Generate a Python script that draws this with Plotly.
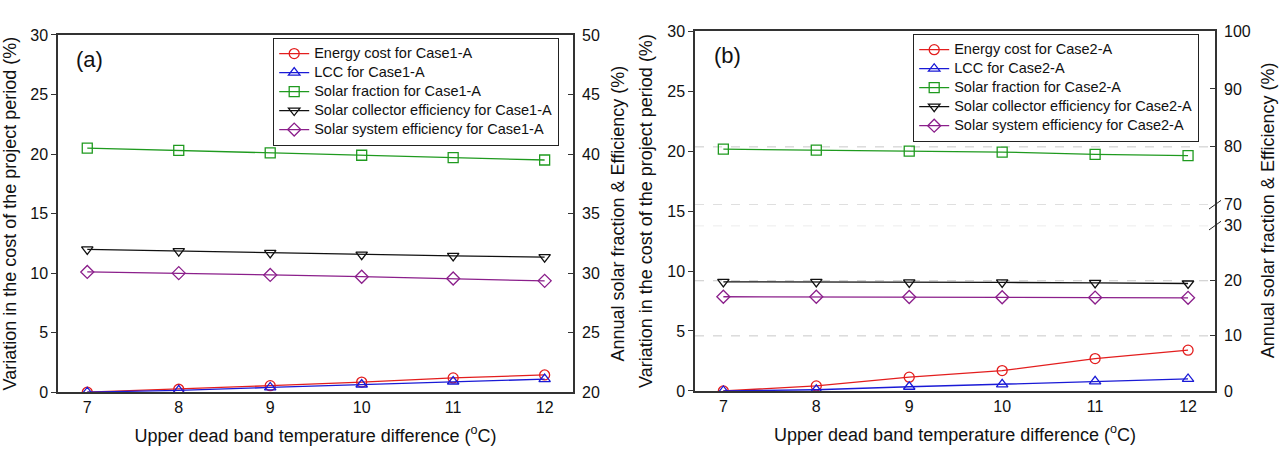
import plotly.graph_objects as go

# ---------------- data ----------------
dead_band = [7, 8, 9, 10, 11, 12]

# Panel (a) Case1-A
a_energy_cost = [0.0, 0.25, 0.55, 0.85, 1.2, 1.45]
a_lcc = [0.0, 0.15, 0.4, 0.65, 0.9, 1.1]
a_solar_fraction = [40.5, 40.3, 40.1, 39.9, 39.7, 39.5]
a_collector_eff = [32.0, 31.85, 31.7, 31.55, 31.45, 31.35]
a_system_eff = [30.1, 30.0, 29.85, 29.7, 29.55, 29.35]

# Panel (b) Case2-A
b_energy_cost = [0.0, 0.42, 1.15, 1.7, 2.7, 3.4]
b_lcc = [0.0, 0.1, 0.35, 0.55, 0.8, 1.0]
b_solar_fraction = [79.6, 79.45, 79.25, 79.1, 78.7, 78.5]
b_collector_eff = [19.8, 19.8, 19.7, 19.7, 19.6, 19.5]
b_system_eff = [17.1, 17.1, 17.05, 17.0, 16.95, 16.9]

left_ticks = [0, 5, 10, 15, 20, 25, 30]
a_right_ticks = [20, 25, 30, 35, 40, 45, 50]
b_right_low_ticks = [0, 10, 20, 30]
b_right_high_ticks = [70, 80, 90, 100]

# ---------------- style ----------------
FONT = "Arial, Liberation Sans, sans-serif"
RED, BLUE, GREEN, BLACK, PURPLE = "#e31e1e", "#1a1ad6", "#1f9a1f", "#111111", "#8b1f8b"
W, H = 1288, 459
CLEAR = "rgba(0,0,0,0)"

def px(x):
    return x / W

def py(y):
    return 1 - y / H

def lg(name):
    return f"<span style='font-size:14.5px'>{name}</span>"

fig = go.Figure()

def add(x, y, name, color, symbol, xa, ya, legend):
    fig.add_trace(go.Scatter(
        x=x, y=y, name=lg(name), mode="lines+markers",
        line=dict(color=color, width=1.3),
        marker=dict(symbol=symbol, size=10, color=color,
                    line=dict(color=color, width=1.3)),
        xaxis=xa, yaxis=ya, legend=legend))

add(dead_band, a_energy_cost, "Energy cost for Case1-A", RED, "circle-open", "x", "y", "legend")
add(dead_band, a_lcc, "LCC for Case1-A", BLUE, "triangle-up-open", "x", "y", "legend")
add(dead_band, a_solar_fraction, "Solar fraction for Case1-A", GREEN, "square-open", "x", "y2", "legend")
add(dead_band, a_collector_eff, "Solar collector efficiency for Case1-A", BLACK, "triangle-down-open", "x", "y2", "legend")
add(dead_band, a_system_eff, "Solar system efficiency for Case1-A", PURPLE, "diamond-open", "x", "y2", "legend")

add(dead_band, b_energy_cost, "Energy cost for Case2-A", RED, "circle-open", "x2", "y3", "legend2")
add(dead_band, b_lcc, "LCC for Case2-A", BLUE, "triangle-up-open", "x2", "y3", "legend2")
add(dead_band, b_solar_fraction, "Solar fraction for Case2-A", GREEN, "square-open", "x2", "y5", "legend2")
add(dead_band, b_collector_eff, "Solar collector efficiency for Case2-A", BLACK, "triangle-down-open", "x2", "y4", "legend2")
add(dead_band, b_system_eff, "Solar system efficiency for Case2-A", PURPLE, "diamond-open", "x2", "y4", "legend2")

AX = "#333333"
tickfont = dict(family=FONT, size=16, color="#111111")
titlefont = dict(family=FONT, size=18, color="#111111")
xtitle = "Upper dead band temperature difference (<sup>o</sup>C)"
ltitle = "Variation in the cost of the project period (%)"
rtitle = "Annual solar fraction & Efficiency (%)"

a_dom_x = [px(58), px(573)]
a_dom_y = [py(399), py(28)]
b_dom_x = [px(695), px(1215)]
b_dom_y = [py(397.7), py(24)]
b_low_dom = [py(397.7), py(226)]
b_high_dom = [py(204.3), py(24)]

xcommon = dict(tickvals=dead_band, showline=True, linecolor=AX, linewidth=1.5,
               mirror=True, ticks="", showgrid=False, zeroline=False,
               tickfont=tickfont, title_font=titlefont)
topticks = dict(side="top", tickvals=dead_band, ticks="inside", ticklen=5, tickcolor=AX,
                showticklabels=False, showgrid=False, zeroline=False, showline=False)
legend_style = dict(xanchor="left", yanchor="top", bordercolor="#222222", borderwidth=1.2,
                    bgcolor="white", font=dict(family=FONT, size=12, color="#111111"),
                    tracegroupgap=0, itemwidth=30)

fig.update_layout(
    width=W, height=H, margin=dict(l=0, r=0, t=0, b=0),
    paper_bgcolor="white", plot_bgcolor=CLEAR,
    font=dict(family=FONT, color="#111111"),
    xaxis=dict(domain=a_dom_x, range=[6.68, 12.31], anchor="y",
               title=dict(text=xtitle, standoff=14), **xcommon),
    xaxis3=dict(overlaying="x", anchor="y", range=[6.68, 12.31], **topticks),
    yaxis=dict(domain=a_dom_y, range=[0, 30], anchor="x", tickvals=left_ticks,
               showline=True, linecolor=AX, linewidth=1.5, mirror=True,
               ticks="outside", ticklen=5, tickcolor=AX, showgrid=False, zeroline=False,
               tickfont=tickfont, title=dict(text=ltitle, font=titlefont, standoff=10)),
    yaxis2=dict(overlaying="y", side="right", anchor="x", range=[20, 50],
                tickvals=a_right_ticks, ticks="inside", ticklen=5, tickcolor=AX,
                ticklabelstandoff=8,
                showgrid=False, zeroline=False, showline=False,
                tickfont=tickfont, title=dict(text=rtitle, font=titlefont, standoff=12)),
    xaxis2=dict(domain=b_dom_x, range=[6.695, 12.29], anchor="y3",
                title=dict(text=xtitle, standoff=14), **xcommon),
    xaxis4=dict(overlaying="x2", anchor="y3", range=[6.695, 12.29], **topticks),
    yaxis3=dict(domain=b_dom_y, range=[0, 30], anchor="x2", tickvals=left_ticks,
                showline=True, linecolor=AX, linewidth=1.5, mirror=True,
                ticks="outside", ticklen=5, tickcolor=AX, showgrid=False, zeroline=False,
                tickfont=tickfont, title=dict(text=ltitle, font=titlefont, standoff=10)),
    yaxis4=dict(domain=b_low_dom, range=[0, 30], anchor="x2", side="right",
                tickvals=b_right_low_ticks, ticks="inside", ticklen=5, tickcolor=AX,
                ticklabelstandoff=8,
                showgrid=False, zeroline=False, showline=False, tickfont=tickfont),
    yaxis5=dict(domain=b_high_dom, range=[70, 100], anchor="x2", side="right",
                tickvals=b_right_high_ticks, ticks="inside", ticklen=5, tickcolor=AX,
                ticklabelstandoff=8,
                showgrid=False, zeroline=False, showline=False, tickfont=tickfont),
    legend=dict(x=px(273), y=py(31), **legend_style),
    legend2=dict(x=px(913), y=py(27), **legend_style),
    showlegend=True,
)

# dashed reference lines of panel (b)
for val in [10, 20, 30]:
    fig.add_shape(type="line", xref="x2 domain", yref="y4", x0=0, x1=1, y0=val, y1=val,
                  line=dict(color="#c8c8c8", width=1, dash="dash"), layer="below")
for val in [70, 80]:
    fig.add_shape(type="line", xref="x2 domain", yref="y5", x0=0, x1=1, y0=val, y1=val,
                  line=dict(color="#c8c8c8", width=1, dash="dash"), layer="below")

# axis break marks
for yb in [py(204.3), py(226)]:
    fig.add_shape(type="line", xref="paper", yref="paper",
                  x0=px(1209), x1=px(1221), y0=yb - 4.5 / H, y1=yb + 4.5 / H,
                  line=dict(color="#222222", width=1))

fig.add_annotation(text="(a)", x=px(89), y=py(53), xref="paper", yref="paper",
                   xanchor="center", yanchor="middle",
                   showarrow=False, font=dict(family=FONT, size=22, color="#111111"))
fig.add_annotation(text="(b)", x=px(727), y=py(49), xref="paper", yref="paper",
                   xanchor="center", yanchor="middle",
                   showarrow=False, font=dict(family=FONT, size=22, color="#111111"))
fig.add_annotation(text=rtitle, x=px(1268), y=py(210), xref="paper", yref="paper",
                   xanchor="center", yanchor="middle",
                   textangle=-90, showarrow=False, font=titlefont)

fig.write_html("out.html")
